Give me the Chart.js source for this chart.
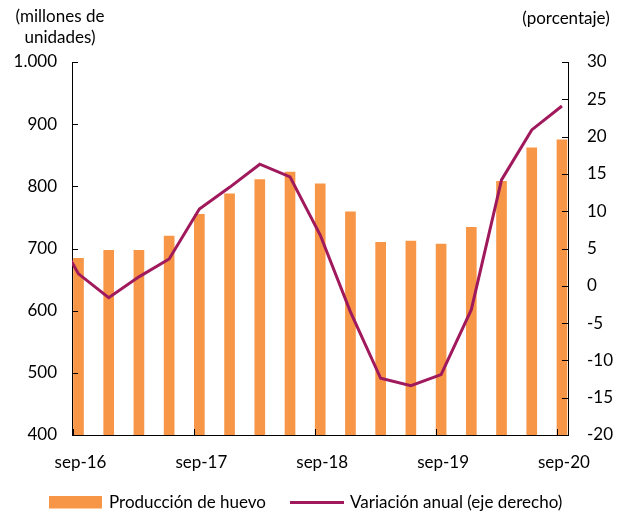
<!DOCTYPE html>
<html><head><meta charset="utf-8">
<script src="https://cdn.jsdelivr.net/npm/chart.js@4/dist/chart.umd.min.js"></script>
<style>html,body{margin:0;padding:0;background:#fff}#wrap{width:621px;height:512px;position:relative}</style>
</head><body><div id="wrap"><canvas id="c" width="621" height="512"></canvas></div>
<script>
// Quarterly periods (jun-16 only feeds the clipped start of the line)
const quarters = ['jun-16','sep-16','dic-16','mar-17','jun-17','sep-17','dic-17','mar-18','jun-18','sep-18','dic-18','mar-19','jun-19','sep-19','dic-19','mar-20','jun-20','sep-20'];
// Egg production, millions of units (left axis)
const produccion = [null,684,697,697,720,755,788,811,823,804,759,710,712,707,734,808,862,875];
// Annual variation, percent (right axis)
const variacion = [8.8,1.6,-1.6,1.2,3.6,10.3,13.2,16.3,14.6,6.8,-3.5,-12.4,-13.4,-11.9,-3.2,14.2,20.9,24.1];
const xTickLabels = ['sep-16','sep-17','sep-18','sep-19','sep-20'];
const leftTicks = [400,500,600,700,800,900,1000];
const rightTicks = [-20,-15,-10,-5,0,5,10,15,20,25,30];
const leftTitle = ['(millones de','unidades)'];
const rightTitle = '(porcentaje)';
const seriesNames = ['Producción de huevo','Variación anual (eje derecho)'];

const BAR_COLOR = '#F79646';
const LINE_COLOR = '#A0195C';
const FONT = 'Lato, "Liberation Sans", sans-serif';
const FS = 17;

const xPos = quarters.map((q,i)=>i-1);
const xTickValues = xTickLabels.map(l => quarters.indexOf(l) - 1);

Chart.defaults.font.family = FONT;
Chart.defaults.font.size = FS;
Chart.defaults.color = '#000';

const tickMarks = {
  id:'tickMarks',
  afterDraw(chart){
    const ctx = chart.ctx, a = chart.chartArea;
    ctx.save();
    ctx.strokeStyle = '#000'; ctx.lineWidth = 1;
    const y = chart.scales.y, y1 = chart.scales.y1, x = chart.scales.x;
    ctx.beginPath();
    leftTicks.forEach(v=>{ const p = Math.round(y.getPixelForValue(v))+0.5; ctx.moveTo(a.left, p); ctx.lineTo(a.left+6, p); });
    rightTicks.forEach(v=>{ const p = Math.round(y1.getPixelForValue(v))+0.5; ctx.moveTo(a.right, p); ctx.lineTo(a.right-6, p); });
    xTickValues.forEach(v=>{ const p = Math.round(x.getPixelForValue(v-1/6))+0.5; if (p>a.left+1) { ctx.moveTo(p, a.bottom); ctx.lineTo(p, a.bottom-6);} });
    ctx.stroke();
    // titles
    ctx.fillStyle = '#000';
    ctx.font = FS + 'px ' + FONT;
    ctx.textAlign = 'center'; ctx.textBaseline = 'middle';
    ctx.fillText(leftTitle[0], 60, 17);
    ctx.fillText(leftTitle[1], 60, 38);
    ctx.fillText(rightTitle, 566, 19);
    // legend
    const ds = chart.data.datasets;
    const bar = ds.find(d=>d.type==='bar'), line = ds.find(d=>d.type==='line');
    ctx.fillStyle = bar.backgroundColor;
    ctx.fillRect(49, 496, 53, 12.5);
    ctx.fillStyle = '#000'; ctx.textAlign = 'left';
    ctx.fillText(bar.label, 109, 503);
    ctx.strokeStyle = line.borderColor; ctx.lineWidth = 3;
    ctx.beginPath(); ctx.moveTo(290, 502.5); ctx.lineTo(344, 502.5); ctx.stroke();
    ctx.fillText(line.label, 350, 503);
    ctx.restore();
  }
};

new Chart(document.getElementById('c'), {
  data: {
    datasets: [
      { type:'line', label: seriesNames[1], data: xPos.map((x,i)=>({x, y: variacion[i]})),
        yAxisID:'y1', borderColor: LINE_COLOR, backgroundColor: LINE_COLOR, borderWidth: 3,
        pointRadius: 0, tension: 0, clip: 0, order: 0 },
      { type:'bar', label: seriesNames[0], data: xPos.map((x,i)=>({x, y: produccion[i]})).filter(d=>d.y!==null),
        yAxisID:'y', backgroundColor: BAR_COLOR, barThickness: 10, order: 1 }
    ]
  },
  options: {
    responsive:false, animation:false,
    layout:{ padding:{ left:0, right:0, top:62, bottom:27 } },
    plugins:{ legend:{display:false}, tooltip:{enabled:false} },
    scales:{
      x:{ type:'linear', min:-0.215, max:16.2, offset:false,
        afterBuildTicks(s){ s.ticks = xTickValues.map(v=>({value:v})); },
        afterFit(s){ s.height = 50; },
        ticks:{ autoSkip:false, maxRotation:0, padding:17, labelOffset:2,
          callback:(v)=>{ const i = xTickValues.indexOf(v); return i>=0 ? xTickLabels[i] : ''; } },
        grid:{ display:false, drawTicks:false, offset:false }, border:{ display:true, color:'#000', width:1 } },
      y:{ position:'left', min:400, max:1000,
        afterBuildTicks(s){ s.ticks = leftTicks.map(v=>({value:v})); },
        afterFit(s){ s.width = 72; },
        ticks:{ padding:15, callback:(v)=> v>=1000 ? (Math.floor(v/1000)+'.'+String(v%1000).padStart(3,'0')) : String(v) },
        grid:{ display:false, drawTicks:false }, border:{ display:true, color:'#000', width:1 } },
      y1:{ position:'right', min:-20, max:30,
        afterBuildTicks(s){ s.ticks = rightTicks.map(v=>({value:v})); },
        afterFit(s){ s.width = 53; },
        ticks:{ padding:19, callback:(v)=>String(v) },
        grid:{ display:false, drawTicks:false }, border:{ display:true, color:'#000', width:1 } }
    }
  },
  plugins:[tickMarks]
});
</script>
</body></html>
